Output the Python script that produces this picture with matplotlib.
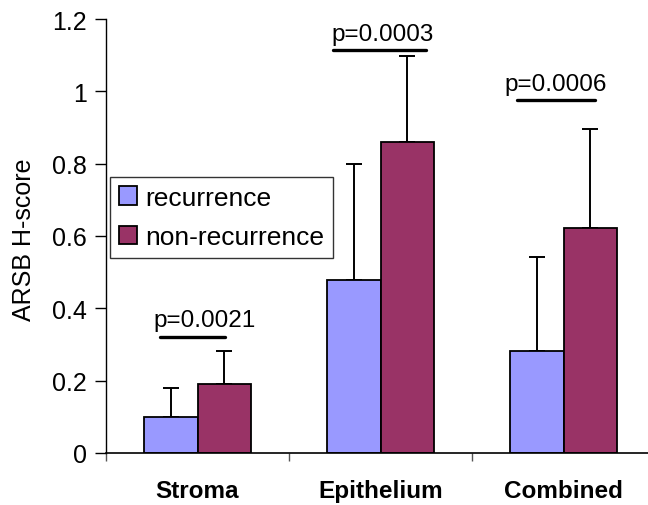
import matplotlib
matplotlib.use("Agg")
import matplotlib.pyplot as plt
import numpy as np

plt.rcParams['font.family'] = ['Liberation Sans', 'DejaVu Sans']

# ---- data ----
categories = ["Stroma", "Epithelium", "Combined"]
series_names = ["recurrence", "non-recurrence"]
recurrence = [0.10, 0.477, 0.282]
recurrence_err = [0.08, 0.323, 0.261]
non_recurrence = [0.19, 0.859, 0.621]
non_recurrence_err = [0.091, 0.240, 0.275]
p_labels = ["p=0.0021", "p=0.0003", "p=0.0006"]
yticks = [0, 0.2, 0.4, 0.6, 0.8, 1.0, 1.2]
ytick_labels = ["0", "0.2", "0.4", "0.6", "0.8", "1", "1.2"]

# ---- annotation layout (positions in data coords) ----
p_line_x = [(-0.205, 0.150), (0.739, 1.249), (1.744, 2.172)]
p_line_y = [0.322, 1.113, 0.975]
p_text_x = [0.041, 1.011, 1.956]

W, H = 648, 506
fig = plt.figure(figsize=(W / 100, H / 100), dpi=100)
ax = fig.add_axes([106 / W, (H - 454) / H, 549 / W, 434 / H])

x = np.arange(len(categories))
bw = 0.29
c_rec = "#9999FF"
c_non = "#993366"

ax.bar(x - bw / 2, recurrence, bw, color=c_rec, edgecolor="black", linewidth=1.3,
       label=series_names[0], zorder=2,
       yerr=[np.zeros(len(recurrence)), recurrence_err],
       error_kw=dict(ecolor="black", elinewidth=1.4, capsize=5.8, capthick=1.4, zorder=1))
ax.bar(x + bw / 2, non_recurrence, bw, color=c_non, edgecolor="black", linewidth=1.3,
       label=series_names[1], zorder=2,
       yerr=[np.zeros(len(non_recurrence)), non_recurrence_err],
       error_kw=dict(ecolor="black", elinewidth=1.4, capsize=5.8, capthick=1.4, zorder=1))

for (x0, x1), ly, tx, lab in zip(p_line_x, p_line_y, p_text_x, p_labels):
    ax.plot([x0, x1], [ly, ly], color="black", lw=2.4, solid_capstyle="round", zorder=3)
    ax.text(tx, ly + 0.029, lab, ha="center", va="baseline", fontsize=17.5, zorder=3)

ax.set_xlim(-0.5, 2.5)
ax.set_ylim(0, 1.2)
ax.set_yticks(yticks)
ax.set_yticklabels(ytick_labels, fontsize=18)
ax.set_xticks(x)
ax.set_xticklabels(categories, fontsize=17.5, fontweight="bold")
ax.set_xticks([-0.5, 0.5, 1.5, 2.5], minor=True)
ax.tick_params(axis="x", which="major", length=0, pad=19)
ax.tick_params(axis="x", which="minor", length=6, width=1, color="#555555")
ax.tick_params(axis="y", length=8, width=1, pad=6)
ax.spines["top"].set_visible(False)
ax.spines["right"].set_visible(False)
ax.spines["left"].set_linewidth(1)
ax.spines["bottom"].set_linewidth(1.2)

fig.text(24 / W, 1 - 240 / H, "ARSB H-score", rotation=90, ha="center", va="center",
         fontsize=18)

leg = ax.legend(loc="upper left", bbox_to_anchor=(0.007, 0.636), borderaxespad=0,
                fontsize=19, frameon=True, fancybox=False, edgecolor="black",
                handlelength=0.7, handleheight=0.7, handletextpad=0.3,
                borderpad=0.33, labelspacing=0.58)
leg.get_frame().set_linewidth(1)

fig.savefig("out.png", dpi=100)
